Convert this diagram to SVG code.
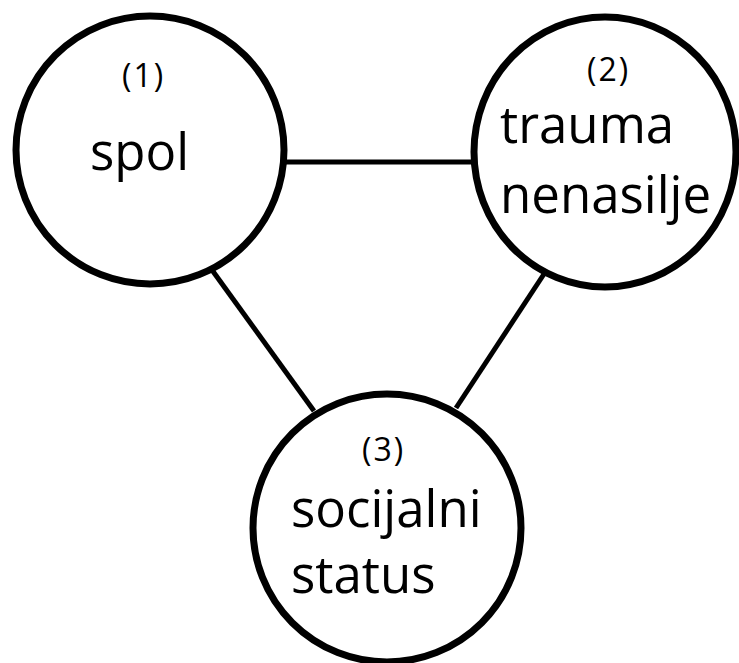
<svg xmlns="http://www.w3.org/2000/svg" width="739" height="663" viewBox="0 0 739 663">
  <style>
    .node { fill: #fff; stroke: #000; stroke-width: 7; }
    .edge { stroke: #000; stroke-width: 5; fill: none; }
    .num { font-family: "Open Sans", "Noto Sans", sans-serif; font-size: 32px; letter-spacing: 2px; fill: #000; }
    .lbl { font-family: "Open Sans", "Noto Sans", sans-serif; font-size: 51px; fill: #000; }
  </style>
  <rect width="739" height="663" fill="#fff"/>
  <g id="connectors">
    <line class="edge" x1="283" y1="162" x2="474" y2="162"/>
    <line class="edge" x1="212" y1="270" x2="314" y2="411"/>
    <line class="edge" x1="544" y1="274" x2="456" y2="408"/>
  </g>
  <g id="node1">
    <circle class="node" cx="150" cy="150" r="134"/>
    <text class="num" x="122" y="87">(1)</text>
    <text class="lbl" x="90" y="170">spol</text>
  </g>
  <g id="node2">
    <ellipse class="node" cx="605" cy="152" rx="131" ry="135"/>
    <text class="num" x="587" y="81">(2)</text>
    <text class="lbl" x="500" y="143">trauma</text>
    <text class="lbl" x="500" y="213">nenasilje</text>
  </g>
  <g id="node3">
    <circle class="node" cx="387" cy="528" r="134"/>
    <text class="num" x="362" y="461">(3)</text>
    <text class="lbl" x="291" y="527">socijalni</text>
    <text class="lbl" x="291" y="593">status</text>
  </g>
</svg>
